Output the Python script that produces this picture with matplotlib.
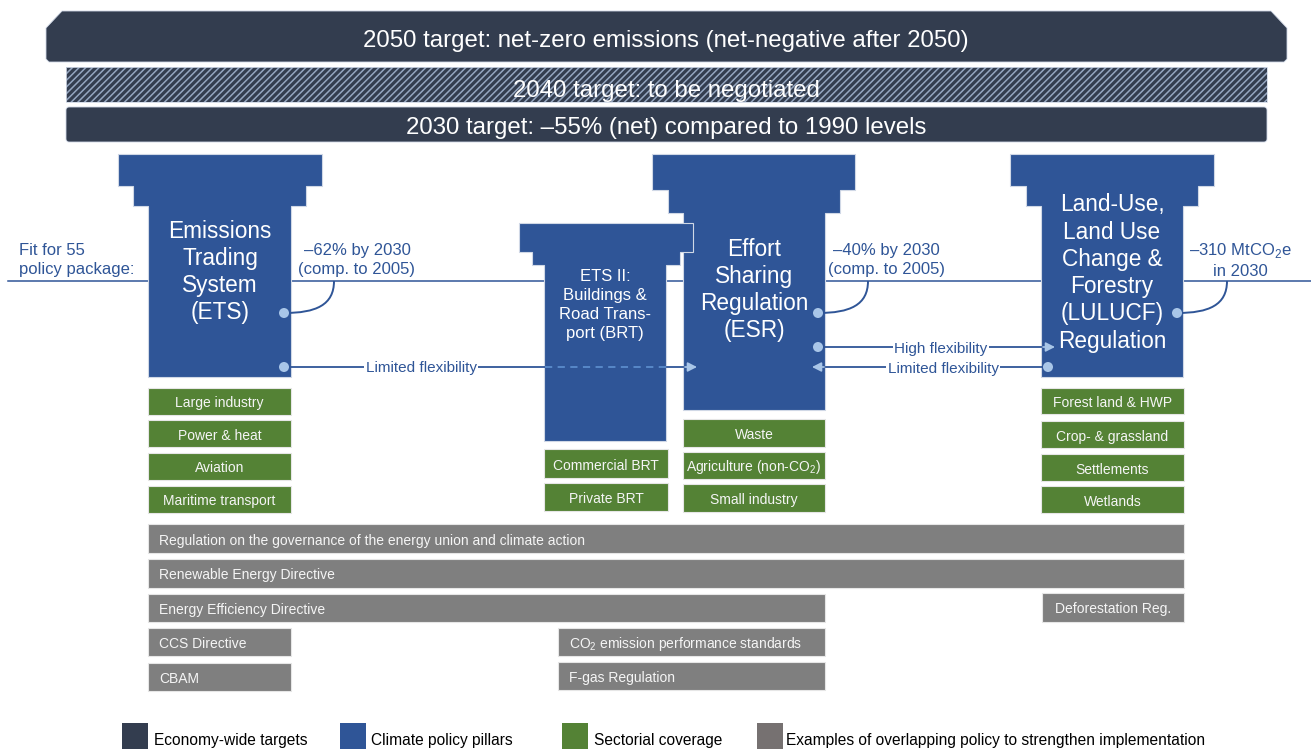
import matplotlib
matplotlib.use("Agg")
import matplotlib.pyplot as plt
from matplotlib.patches import Polygon, Rectangle, FancyBboxPatch, Circle, PathPatch
from matplotlib.path import Path

plt.rcParams['font.family'] = ['Liberation Sans', 'DejaVu Sans']
plt.rcParams['mathtext.fontset'] = 'custom'
plt.rcParams['mathtext.rm'] = 'Liberation Sans'
plt.rcParams['hatch.linewidth'] = 1.1

# colours
NAVY = '#333d4f'
BLUE = '#2f5597'
LIGHT = '#a9c6e8'
GREEN = '#548235'
GREY = '#7f7f7f'
EDGE = '#d0d8e6'

# ---- text content ----
target_labels = ["2050 target: net-zero emissions (net-negative after 2050)",
                 "2040 target: to be negotiated",
                 "2030 target: \u201355% (net) compared to 1990 levels"]

pillar_labels = ["Emissions\nTrading\nSystem\n(ETS)",
                 "ETS II:\nBuildings &\nRoad Trans-\nport (BRT)",
                 "Effort\nSharing\nRegulation\n(ESR)",
                 "Land-Use,\nLand Use\nChange &\nForestry\n(LULUCF)\nRegulation"]

pillar_targets = ["\u201362% by 2030\n(comp. to 2005)",
                  "\u201340% by 2030\n(comp. to 2005)",
                  "\u2013310 MtCO$_\\mathrm{2}$e\nin 2030"]

sectors_ets = ["Large industry", "Power & heat", "Aviation", "Maritime transport"]
sectors_brt = ["Commercial BRT", "Private BRT"]
sectors_esr = ["Waste", "Agriculture (non-CO$_\\mathrm{2}$)", "Small industry"]
sectors_lulucf = ["Forest land & HWP", "Crop- & grassland", "Settlements", "Wetlands"]

overlap_policies = ["Regulation on the governance of the energy union and climate action",
                    "Renewable Energy Directive",
                    "Energy Efficiency Directive",
                    "Deforestation Reg.",
                    "CCS Directive",
                    "CBAM",
                    "CO$_\\mathrm{2}$ emission performance standards",
                    "F-gas Regulation"]

legend_labels = ["Economy-wide targets", "Climate policy pillars", "Sectorial coverage",
                 "Examples of overlapping policy to strengthen implementation"]
legend_colors = [NAVY, BLUE, GREEN, '#767171']

# ---- layout (pixel coords, y down) ----
# pillar: cap (x0,x1,y0,y1), step (x0,x1,y1), body (x0,x1,y1)
pillar_geom = [
    ((118, 322, 154, 186), (133, 306, 206), (148, 291, 377)),
    ((519, 693, 223, 252), (532, 680, 265), (544, 666, 441)),
    ((652, 855, 154, 190), (668, 840, 213), (683, 825, 410)),
    ((1010, 1214, 154, 186), (1026, 1198, 206), (1041, 1183, 377)),
]
pillar_text_pos = [(220, 272, 16.3, 1.24), (605, 305, 12, 1.32),
                   (754, 290, 16.3, 1.24), (1112, 273, 16.3, 1.24)]

sector_geom_ets = [(148, 291, 388, 415), (148, 291, 420, 447), (148, 291, 453, 480), (148, 291, 486, 513)]
sector_geom_brt = [(544, 668, 449, 478), (544, 668, 483, 511)]
sector_geom_esr = [(683, 825, 419, 447), (683, 825, 452, 479), (683, 825, 484, 512)]
sector_geom_lulucf = [(1041, 1184, 388, 414), (1041, 1184, 421, 448), (1041, 1184, 454, 481), (1041, 1184, 486, 513)]

overlap_geom = [(148, 1184, 524, 553, 'l'), (148, 1184, 559, 588, 'l'), (148, 825, 594, 622, 'l'),
                (1042, 1184, 593, 622, 'c'), (148, 291, 628, 656, 'l'), (148, 291, 663, 691, 'l'),
                (558, 825, 628, 656, 'l'), (558, 825, 662, 690, 'l')]

fig = plt.figure(figsize=(13.11, 7.49), dpi=100)
ax = fig.add_axes([0, 0, 1, 1])
ax.set_xlim(0, 1311)
ax.set_ylim(749, 0)
ax.axis('off')

# ---- economy-wide targets ----
top = Polygon([(46, 28), (62, 11), (1271, 11), (1287, 28), (1287, 59), (1284, 62),
               (49, 62), (46, 59)], closed=True, fc=NAVY, ec=EDGE, lw=0.6, zorder=2)
ax.add_patch(top)
ax.text(666, 41, target_labels[0], color='white', fontsize=17.3, ha='center', va='center', zorder=3)

hatch = Rectangle((66, 67), 1201, 35, fc=NAVY, ec='#95a6c0', lw=0, hatch='/////', zorder=2)
ax.add_patch(hatch)
ax.add_patch(Rectangle((66, 67), 1201, 35, fc='none', ec=EDGE, lw=0.6, zorder=2))
ax.text(666, 91, target_labels[1], color='white', fontsize=17.3, ha='center', va='center', zorder=3)

b2030 = FancyBboxPatch((66, 107), 1201, 35, boxstyle='round,pad=0,rounding_size=3',
                       fc=NAVY, ec=EDGE, lw=0.6, zorder=2)
ax.add_patch(b2030)
ax.text(666, 128, target_labels[2], color='white', fontsize=17.3, ha='center', va='center', zorder=3)

# ---- fit for 55 line ----
ax.plot([8, 1311], [281, 281], color=BLUE, lw=1.1, zorder=1)
ax.text(19, 260, "Fit for 55\npolicy package:", color=BLUE, fontsize=12, ha='left', va='center',
        linespacing=1.32, zorder=3)

# ---- pillars ----
order = [0, 2, 1, 3]  # ETS II drawn over ESR
for i in order:
    (cx0, cx1, cy0, cy1), (sx0, sx1, sy1), (bx0, bx1, by1) = pillar_geom[i]
    pts = [(cx0, cy0), (cx1, cy0), (cx1, cy1), (sx1, cy1), (sx1, sy1), (bx1, sy1), (bx1, by1),
           (bx0, by1), (bx0, sy1), (sx0, sy1), (sx0, cy1), (cx0, cy1)]
    ax.add_patch(Polygon(pts, closed=True, fc=BLUE, ec=EDGE, lw=0.8, zorder=2))
for i, lab in enumerate(pillar_labels):
    x, y, fs, ls = pillar_text_pos[i]
    ax.text(x, y, lab, color='white', fontsize=fs, ha='center', va='center', linespacing=ls, zorder=4)

# ---- target callouts ----
callout_dots = [284, 818, 1177]
callout_text_x = [357, 886, 1240]
for xd, xt, lab in zip(callout_dots, callout_text_x, pillar_targets):
    xe = xd + 50
    verts = [(xd, 313), (xd + 32, 313), (xe, 305), (xe, 281)]
    p = Path(verts, [Path.MOVETO, Path.CURVE4, Path.CURVE4, Path.CURVE4])
    ax.add_patch(PathPatch(p, fc='none', ec=BLUE, lw=1.4, zorder=3))
    ax.add_patch(Circle((xd, 313), 5, fc=LIGHT, ec='none', zorder=5))
    ax.text(xt, 260, lab, color=BLUE, fontsize=12, ha='center', va='center', linespacing=1.32, zorder=3)


def arrow_head(x_tip, y, direction, color):
    ax.annotate('', xy=(x_tip, y), xytext=(x_tip - 12 * direction, y),
                arrowprops=dict(arrowstyle='-|>,head_length=0.55,head_width=0.28',
                                color=color, lw=1.2, shrinkA=0, shrinkB=0), zorder=5)


# ETS -> ESR limited flexibility
ax.plot([284, 545], [367, 367], color=BLUE, lw=1.3, zorder=3)
ax.plot([545, 667], [367, 367], color='#5b8ccc', lw=1.3, ls=(0, (4, 3)), zorder=3)
ax.plot([667, 683], [367, 367], color=BLUE, lw=1.3, zorder=3)
arrow_head(697, 367, 1, LIGHT)
ax.add_patch(Circle((284, 367), 5, fc=LIGHT, ec='none', zorder=5))
ax.text(421, 368, "Limited flexibility", color=BLUE, fontsize=11, ha='center', va='center',
        zorder=4, bbox=dict(fc='white', ec='none', pad=1))

# ESR <-> LULUCF
ax.plot([818, 1041], [347, 347], color=BLUE, lw=1.3, zorder=3)
arrow_head(1055, 347, 1, LIGHT)
ax.add_patch(Circle((818, 347), 5, fc=LIGHT, ec='none', zorder=5))
ax.text(941, 349, "High flexibility", color=BLUE, fontsize=11, ha='center', va='center',
        zorder=4, bbox=dict(fc='white', ec='none', pad=1))

ax.plot([826, 1048], [367, 367], color=BLUE, lw=1.3, zorder=3)
arrow_head(812, 367, -1, LIGHT)
ax.add_patch(Circle((1048, 367), 5, fc=LIGHT, ec='none', zorder=5))
ax.text(943, 369, "Limited flexibility", color=BLUE, fontsize=11, ha='center', va='center',
        zorder=4, bbox=dict(fc='white', ec='none', pad=1))


# ---- sectorial coverage ----
def box(x0, x1, y0, y1, color, label, align='c', fs=10):
    ax.add_patch(Rectangle((x0, y0), x1 - x0, y1 - y0, fc=color, ec='#e6e6e6', lw=0.8, zorder=2))
    yc = (y0 + y1) / 2 + 2
    if align == 'c':
        ax.text((x0 + x1) / 2, yc, label, color='#f5f5f5', fontsize=fs, ha='center', va='center', zorder=3)
    else:
        ax.text(x0 + 11, yc, label, color='#f5f5f5', fontsize=fs, ha='left', va='center', zorder=3)


for labels, geom in [(sectors_ets, sector_geom_ets), (sectors_brt, sector_geom_brt),
                     (sectors_esr, sector_geom_esr), (sectors_lulucf, sector_geom_lulucf)]:
    for lab, (x0, x1, y0, y1) in zip(labels, geom):
        box(x0, x1, y0, y1, GREEN, lab)

# ---- overlapping policies ----
for lab, (x0, x1, y0, y1, al) in zip(overlap_policies, overlap_geom):
    box(x0, x1, y0, y1, GREY, lab, align=al)

# ---- legend ----
legend_x = [122, 340, 562, 757]
legend_text_x = [154, 371, 594, 786]
for x, xt, lab, col in zip(legend_x, legend_text_x, legend_labels, legend_colors):
    ax.add_patch(Rectangle((x, 723), 26, 30, fc=col, ec='none', zorder=2))
    ax.text(xt, 740, lab, color='black', fontsize=11.2, ha='left', va='center', zorder=3)

fig.savefig('out.png', dpi=100)
